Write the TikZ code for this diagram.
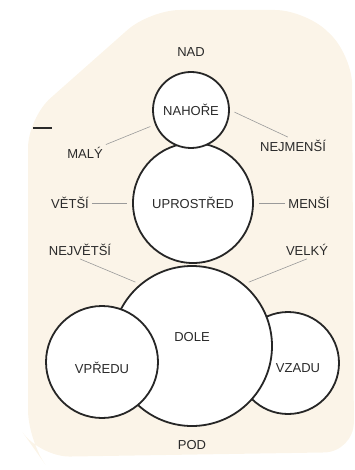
\documentclass[tikz,border=0pt]{standalone}
\usepackage{fontspec}
\setmainfont{Liberation Sans}
\usepackage{xcolor}
\usetikzlibrary{positioning,calc}

\definecolor{cream}{HTML}{FBF4E8}
\definecolor{ink}{HTML}{2A2A2A}
\definecolor{wire}{HTML}{9A9A9A}

\tikzset{
  ball/.style={circle, draw=black!85, line width=1.8pt, fill=white, inner sep=0pt, text=ink},
  word/.style={text=ink, inner sep=3pt, font=\fontsize{13}{15}\selectfont},
  link/.style={draw=wire, line width=0.6pt, shorten >=5pt}
}

\begin{document}
\begin{tikzpicture}[x=1pt, y=-1pt]
\useasboundingbox (0,0) rectangle (354,470);
% Background
\fill[cream, rounded corners=30pt] (150,10) -- (305,10) -- (352,55) -- (354,452)
  -- (40,457) -- (28,440) -- (28,118) -- cycle;
\draw[ink, line width=1.2pt] (33,128) -- (52,128);

% Circles
\node[ball, minimum size=102pt] (vzadu) at (288,363) {};
\node[ball, minimum size=160pt] (dole) at (192,346) {};
\node[ball, minimum size=112pt] (vpredu) at (102,362) {};
\node[ball, minimum size=120pt, font=\fontsize{13}{15}\selectfont] (uprostred) at (193,203) {UPROSTŘED};
\node[ball, minimum size=76pt, font=\fontsize{13}{15}\selectfont] (nahore) at (191,110) {NAHOŘE};

% Texts inside
\node[word] (dole-t) at ([yshift=9pt]dole.center) {DOLE};
\node[word] (vpredu-t) at ([yshift=-6pt]vpredu.center) {VPŘEDU};
\node[word] (vzadu-t) at ([xshift=10pt, yshift=-5pt]vzadu.center) {VZADU};

% Labels
\node[word, above=11pt of nahore] (nad) {NAD};
\node[word, below=10pt of dole] (pod) {POD};
\node[word] (maly) at (85,153) {MALÝ};
\node[word] (nejmensi) at (293,146) {NEJMENŠÍ};
\node[word] (vetsi) at (70,203) {VĚTŠÍ};
\node[word] (mensi) at (309,203) {MENŠÍ};
\node[word] (nejvetsi) at (80,250) {NEJVĚTŠÍ};
\node[word] (velky) at (307,250) {VELKÝ};

% Connectors
\draw[link] (maly) -- (nahore);
\draw[link] (nejmensi.120) -- (nahore.east);
\draw[link] (vetsi) -- (uprostred);
\draw[link] (mensi) -- (uprostred);
\draw[link] (nejvetsi.south) -- (dole.130);
\draw[link] (velky.south) -- (dole.50);
\end{tikzpicture}
\end{document}
